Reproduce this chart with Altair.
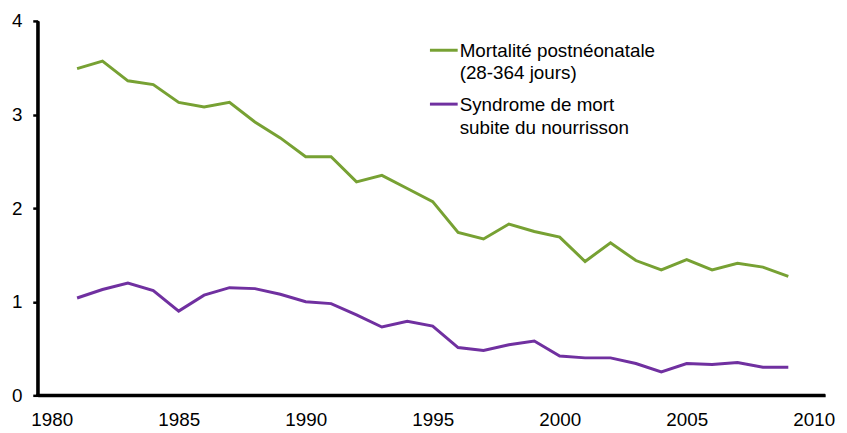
import altair as alt
import pandas as pd

years = list(range(1981, 2010))
postneonatal = [3.49, 3.57, 3.36, 3.32, 3.13, 3.08, 3.13, 2.92, 2.75, 2.55,
                2.55, 2.28, 2.35, 2.21, 2.07, 1.74, 1.67, 1.83, 1.75, 1.69,
                1.43, 1.63, 1.44, 1.34, 1.45, 1.34, 1.41, 1.37, 1.27]
sids = [1.04, 1.13, 1.20, 1.12, 0.90, 1.07, 1.15, 1.14, 1.08, 1.00,
        0.98, 0.86, 0.73, 0.79, 0.74, 0.51, 0.48, 0.54, 0.58, 0.42,
        0.40, 0.40, 0.34, 0.25, 0.34, 0.33, 0.35, 0.30, 0.30]
series_names = ["Mortalité postnéonatale", "Syndrome de mort subite du nourrisson"]
legend_lines = [["Mortalité postnéonatale", "(28-364 jours)"],
                ["Syndrome de mort", "subite du nourrisson"]]
colors = ["#77A133", "#7030A0"]
x_ticks = [1980, 1985, 1990, 1995, 2000, 2005, 2010]
y_ticks = [0, 1, 2, 3, 4]

rows = []
for name, vals in zip(series_names, [postneonatal, sids]):
    for y, v in zip(years, vals):
        rows.append({"year": y, "value": v, "series": name})
df = pd.DataFrame(rows)

FONT = "Liberation Sans"
W, H = 795, 378

x_enc = alt.X("year:Q",
              scale=alt.Scale(domain=[1979.45, 2010.45], nice=False, zero=False),
              axis=alt.Axis(values=x_ticks, format="d", title=None, grid=False,
                            ticks=False, tickSize=0, labelPadding=15,
                            domainColor="#000000", domainWidth=3,
                            labelFont=FONT, labelFontSize=19, labelColor="#000000"))
y_enc = alt.Y("value:Q",
              scale=alt.Scale(domain=[0, 4], nice=False),
              axis=alt.Axis(values=y_ticks, title=None, grid=False,
                            ticks=True, tickSize=5, tickWidth=2.5, tickColor="#000000",
                            labelPadding=11, domainColor="#000000", domainWidth=3,
                            labelFont=FONT, labelFontSize=19, labelColor="#000000"))

lines = alt.Chart(df).mark_line(strokeWidth=3).encode(
    x=x_enc, y=y_enc,
    color=alt.Color("series:N", scale=alt.Scale(domain=series_names, range=colors), legend=None),
)

axdf = pd.DataFrame({"a": [0]})
x_axis_line = alt.Chart(axdf).mark_rule(strokeWidth=3, color="#000000").encode(
    x=alt.value(-1.5), x2=alt.value(W), y=alt.value(H))
y_axis_line = alt.Chart(axdf).mark_rule(strokeWidth=3, color="#000000").encode(
    x=alt.value(0), y=alt.value(0), y2=alt.value(H + 1.5))

layers = [lines, x_axis_line, y_axis_line]
sym_y = [29.6, 84.0]
base_y = [36.3, 91.3]
for i in range(2):
    ldf = pd.DataFrame({"t": [legend_lines[i][0]], "t2": [legend_lines[i][1]]})
    rule = alt.Chart(ldf).mark_rule(strokeWidth=3, color=colors[i]).encode(
        x=alt.value(396), x2=alt.value(424), y=alt.value(sym_y[i]))
    t1 = alt.Chart(ldf).mark_text(align="left", baseline="alphabetic", font=FONT,
                                  fontSize=19, color="#000000").encode(
        text="t:N", x=alt.value(426), y=alt.value(base_y[i]))
    t2 = alt.Chart(ldf).mark_text(align="left", baseline="alphabetic", font=FONT,
                                  fontSize=19, color="#000000").encode(
        text="t2:N", x=alt.value(426), y=alt.value(base_y[i] + 22.5))
    layers += [rule, t1, t2]

chart = alt.layer(*layers).properties(
    width=W, height=H,
    background="white",
    autosize=alt.AutoSizeParams(type="none"),
    padding={"left": 30, "top": 11, "right": 14, "bottom": 36},
).configure_view(stroke=None).configure_axis(
    domainWidth=3, domainColor="#000000"
)

chart.save("out.html", embed_options={"renderer": "svg", "actions": False})
